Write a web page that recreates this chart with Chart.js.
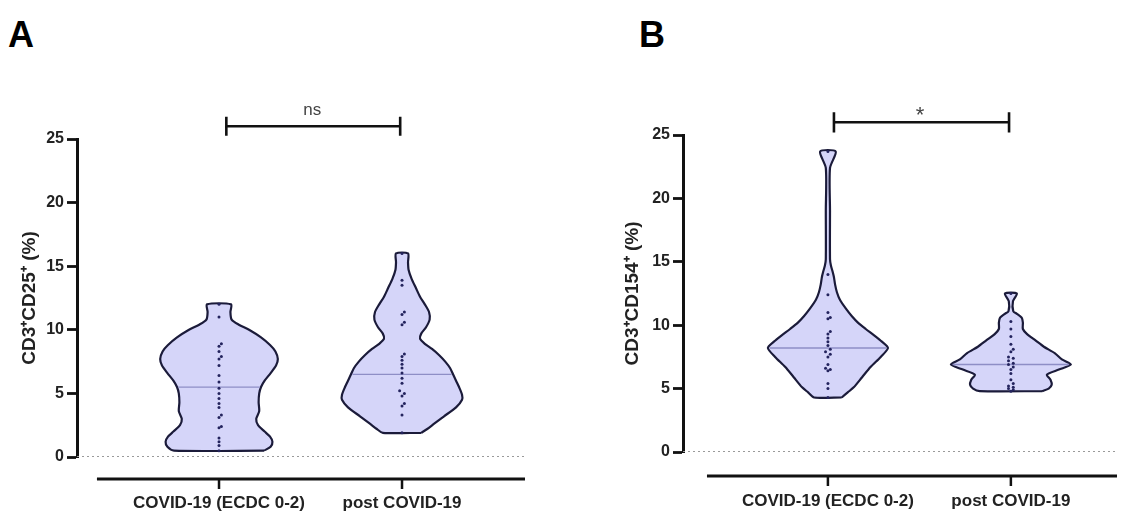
<!DOCTYPE html>
<html><head><meta charset="utf-8">
<script src="https://cdn.jsdelivr.net/npm/chart.js@4.4.1/dist/chart.umd.min.js"></script>
<style>
html,body{margin:0;padding:0;background:#fff;width:1121px;height:515px;overflow:hidden;position:relative}
canvas{position:absolute;top:0}
.panel{position:absolute;font:bold 36px "Liberation Sans",Arial,sans-serif;color:#000;line-height:1}
</style></head><body>
<div class="panel" style="left:8px;top:17px">A</div>
<div class="panel" style="left:639px;top:17px">B</div>
<canvas id="ca" width="560" height="515" style="left:0"></canvas>
<canvas id="cb" width="561" height="515" style="left:560px"></canvas>
<script>
const categories = ['COVID-19 (ECDC 0-2)', 'post COVID-19'];
const yTicks = [0, 5, 10, 15, 20, 25];

// ---- Panel A: CD3+CD25+ (%) ----
const a1Levels = [0.5, 0.8, 1.2, 1.6, 2.0, 2.5, 3.0, 3.6, 4.3, 5.0, 5.5, 6.0, 6.6, 7.2, 7.7, 8.3, 8.8, 9.4, 10.0, 10.4, 10.8, 11.4, 12.0];
const a1Widths = [0.75, 0.86, 0.89, 0.85, 0.76, 0.65, 0.62, 0.67, 0.66, 0.67, 0.70, 0.76, 0.86, 0.95, 0.98, 0.94, 0.85, 0.70, 0.50, 0.33, 0.21, 0.19, 0.20];
const a1Median = 5.5;
const a1Values = [12.0, 11.0, 8.9, 8.7, 8.3, 7.9, 7.7, 7.2, 6.4, 5.9, 5.4, 5.0, 4.6, 4.2, 3.9, 3.3, 3.1, 2.4, 2.3, 1.5, 1.2, 0.9, 0.5];

const a2Levels = [1.9, 2.2, 2.6, 3.2, 3.9, 4.5, 4.9, 5.5, 6.0, 6.5, 7.0, 7.5, 8.0, 8.5, 8.9, 9.3, 9.7, 10.2, 10.8, 11.4, 12.0, 12.6, 13.3, 14.0, 14.7, 15.3, 16.0];
const a2Widths = [0.32, 0.42, 0.53, 0.70, 0.90, 1.00, 1.00, 0.95, 0.90, 0.85, 0.80, 0.72, 0.62, 0.50, 0.38, 0.30, 0.32, 0.40, 0.46, 0.45, 0.38, 0.30, 0.23, 0.16, 0.11, 0.10, 0.10];
const a2Median = 6.5;
const a2Values = [16.0, 13.9, 13.5, 11.4, 11.2, 10.6, 10.4, 8.1, 7.9, 7.6, 7.3, 7.0, 6.6, 6.2, 5.8, 5.2, 5.0, 4.8, 4.2, 4.0, 3.3, 1.9];

// ---- Panel B: CD3+CD154+ (%) ----
const b1Levels = [4.3, 4.7, 5.1, 5.9, 6.7, 7.5, 8.2, 8.7, 9.2, 9.7, 10.2, 10.7, 11.3, 12.0, 12.6, 13.2, 13.8, 14.2, 14.7, 15.2, 19.0, 22.4, 23.7];
const b1Widths = [0.23, 0.33, 0.43, 0.57, 0.71, 0.88, 1.00, 0.90, 0.77, 0.63, 0.50, 0.40, 0.30, 0.20, 0.15, 0.12, 0.10, 0.08, 0.05, 0.035, 0.035, 0.035, 0.13];
const b1Median = 8.2;
const b1Values = [23.7, 14.0, 12.4, 11.0, 10.6, 10.5, 9.5, 9.3, 9.0, 8.7, 8.4, 8.1, 7.9, 7.7, 7.5, 6.9, 6.6, 6.5, 6.4, 5.4, 5.0, 4.3];

const b2Levels = [4.8, 5.0, 5.3, 5.7, 6.1, 6.5, 6.9, 7.3, 7.8, 8.3, 8.8, 9.3, 9.7, 10.2, 10.6, 10.9, 11.1, 11.9, 12.5];
const b2Widths = [0.52, 0.63, 0.68, 0.66, 0.60, 0.80, 1.00, 0.85, 0.73, 0.55, 0.41, 0.27, 0.20, 0.20, 0.18, 0.10, 0.04, 0.035, 0.10];
const b2Median = 6.9;
const b2Values = [12.5, 10.3, 9.7, 9.1, 8.5, 8.1, 7.9, 7.5, 7.4, 7.2, 7.0, 6.9, 6.7, 6.5, 6.2, 5.7, 5.4, 5.2, 5.1, 5.0, 4.9, 4.8];

// significance annotations
const sigA = {from: 0.04, to: 0.99, y: 26.0, cap: 0.75, text: 'ns', textX: 0.51, textY: 26.9, size: 17};
const sigB = {from: 0.033, to: 0.99, y: 26.0, cap: 0.8, text: '*', textX: 0.503, textY: 26.0, size: 22};

const FONT = '"Liberation Sans", Arial, sans-serif';
const HALF = 0.328;

function violinPath(idx, levels, widths) {
  const right = levels.map((v, k) => ({x: idx + widths[k] * HALF, y: v}));
  const left = levels.map((v, k) => ({x: idx - widths[k] * HALF, y: v})).reverse();
  return [...right, ...left, right[0]];
}
function widthAt(levels, widths, v) {
  for (let k = 0; k < levels.length - 1; k++) {
    if (v >= levels[k] && v <= levels[k + 1]) {
      const t = (v - levels[k]) / (levels[k + 1] - levels[k]);
      return widths[k] + t * (widths[k + 1] - widths[k]);
    }
  }
  return widths[0];
}
function dotPoints(idx, vals) {
  const pts = []; let prev = null; let side = 1;
  vals.slice().sort((a, b) => a - b).forEach(v => {
    let off = 0;
    if (prev !== null && v - prev < 0.25) { off = side * 0.013; side = -side; } else side = 1;
    pts.push({x: idx + off, y: v}); prev = v;
  });
  return pts;
}

const decor = {
  id: 'decor',
  afterDraw(chart, args, o) {
    const {ctx, chartArea, scales: {x, y}} = chart;
    const yy = chartArea.bottom + o.axisGap;
    ctx.save();
    ctx.strokeStyle = '#111'; ctx.lineWidth = 3;
    ctx.beginPath();
    ctx.moveTo(x.getPixelForValue(o.axisStart), yy);
    ctx.lineTo(x.getPixelForValue(o.axisEnd), yy);
    ctx.stroke();
    ctx.lineWidth = 2.5;
    categories.forEach((c, i) => {
      const px = x.getPixelForValue(i);
      ctx.beginPath(); ctx.moveTo(px, yy); ctx.lineTo(px, yy + 10); ctx.stroke();
    });
    ctx.fillStyle = '#444';
    ctx.font = o.sig.size + 'px ' + FONT;
    ctx.textAlign = 'center'; ctx.textBaseline = 'alphabetic';
    ctx.fillText(o.sig.text, x.getPixelForValue(o.sig.textX), y.getPixelForValue(o.sig.textY));
    ctx.restore();
  }
};

function makeChart(id, c) {
  const groups = c.g;
  const ds = [];
  ds.push({data: [{x: c.xMin, y: 0}, {x: c.xMax, y: 0}], showLine: true, borderColor: '#9a9a9a',
    borderWidth: 1.8, borderDash: [2, 3], pointRadius: 0, order: 10});
  groups.forEach((g, i) => {
    ds.push({data: violinPath(i, g.levels, g.widths), showLine: true, fill: 'shape',
      backgroundColor: '#d5d5f9', borderColor: '#1b1b3a', borderWidth: 2.2, tension: 0.25,
      pointRadius: 0, order: 8});
  });
  groups.forEach((g, i) => {
    const w = widthAt(g.levels, g.widths, g.median) * HALF * 0.97;
    ds.push({data: [{x: i - w, y: g.median}, {x: i + w, y: g.median}], showLine: true,
      borderColor: '#8e8ec6', borderWidth: 1.3, pointRadius: 0, order: 7});
  });
  groups.forEach((g, i) => {
    ds.push({data: dotPoints(i, g.values), showLine: false, pointRadius: 1.5,
      pointBackgroundColor: '#24245e', pointBorderWidth: 0, order: 6});
  });
  const s = c.sig;
  ds.push({data: [{x: s.from, y: s.y - s.cap}, {x: s.from, y: s.y + s.cap}, {x: s.from, y: s.y},
    {x: s.to, y: s.y}, {x: s.to, y: s.y + s.cap}, {x: s.to, y: s.y - s.cap}], showLine: true,
    borderColor: '#111', borderWidth: 2.6, pointRadius: 0, clip: false, order: 5});

  return new Chart(document.getElementById(id), {
    type: 'scatter',
    data: {datasets: ds},
    options: {
      responsive: false, animation: false, devicePixelRatio: 1,
      layout: {padding: {left: c.padL, right: c.padR, top: c.padT, bottom: 0}},
      plugins: {legend: {display: false}, tooltip: {enabled: false},
        decor: {axisGap: c.axisGap, axisStart: c.axisStart, axisEnd: c.xMax, sig: c.sig}},
      scales: {
        x: {type: 'linear', min: c.xMin, max: c.xMax,
          afterBuildTicks: sc => { sc.ticks = categories.map((_, i) => ({value: i})); },
          ticks: {callback: v => categories[v] ?? '', font: {family: FONT, size: 17, weight: 'bold'},
            color: '#222', padding: c.labelPad, maxRotation: 0, autoSkip: false},
          grid: {display: false, drawTicks: false}, border: {display: false},
          afterFit: sc => { sc.height = c.xAxisH; }},
        y: {min: 0, max: 25,
          afterBuildTicks: sc => { sc.ticks = yTicks.map(v => ({value: v})); },
          ticks: {font: {family: FONT, size: 16, weight: 'bold'}, color: '#222', padding: 3},
          grid: {drawOnChartArea: false, drawTicks: true, tickLength: 10, tickWidth: 2.8,
            tickColor: '#111', color: '#111'},
          border: {display: true, color: '#111', width: 3},
          title: {display: true, text: c.yTitle, font: {family: FONT, size: 19, weight: 'bold'},
            color: '#222', padding: {top: 3, bottom: 3}},
          afterFit: sc => { sc.width = c.yAxisW; }}
      }
    },
    plugins: [decor]
  });
}

makeChart('ca', {
  g: [{levels: a1Levels, widths: a1Widths, median: a1Median, values: a1Values},
      {levels: a2Levels, widths: a2Widths, median: a2Median, values: a2Values}],
  xMin: -0.776, xMax: 1.672, axisStart: -0.667, axisGap: 22,
  padL: 15, padR: 35, padT: 139, yAxisW: 62, xAxisH: 58, labelPad: 36,
  yTitle: 'CD3⁺CD25⁺ (%)', sig: sigA
});
makeChart('cb', {
  g: [{levels: b1Levels, widths: b1Widths, median: b1Median, values: b1Values},
      {levels: b2Levels, widths: b2Widths, median: b2Median, values: b2Values}],
  xMin: -0.792, xMax: 1.580, axisStart: -0.661, axisGap: 24,
  padL: 58, padR: 4, padT: 135, yAxisW: 65, xAxisH: 63, labelPad: 39,
  yTitle: 'CD3⁺CD154⁺ (%)', sig: sigB
});
</script>
</body></html>
